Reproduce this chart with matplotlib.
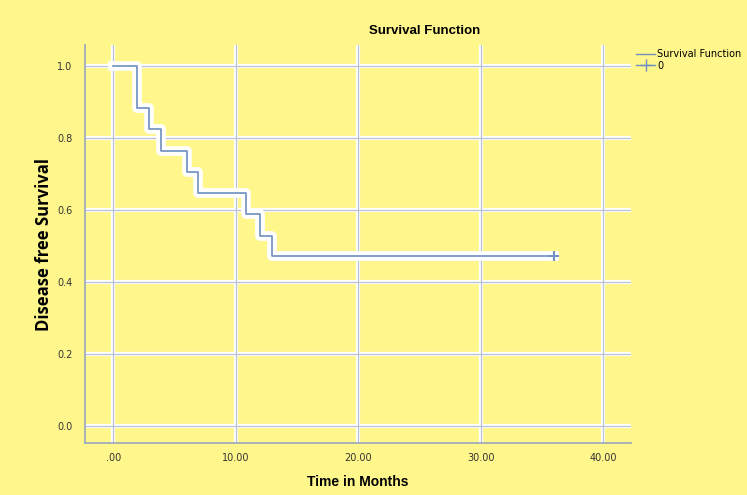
import matplotlib.pyplot as plt
from matplotlib.lines import Line2D

# Kaplan-Meier step data
event_times = [0.0, 1.9, 2.9, 3.9, 6.0, 6.9, 10.8, 12.0, 13.0]
survival = [1.0, 0.882, 0.824, 0.765, 0.706, 0.647, 0.588, 0.529, 0.471]
censor_times = [36.0]
censor_survival = [0.471]

x_ticks = [0, 10, 20, 30, 40]
x_tick_labels = [".00", "10.00", "20.00", "30.00", "40.00"]
y_ticks = [0.0, 0.2, 0.4, 0.6, 0.8, 1.0]
y_tick_labels = ["0.0", "0.2", "0.4", "0.6", "0.8", "1.0"]

bg = "#FFF68C"
grid_col = "#B9C2D4"
line_col = "#6E8FBF"

fig = plt.figure(figsize=(7.47, 4.95), dpi=100, facecolor=bg)
ax = fig.add_axes([0.114, 0.105, 0.731, 0.804], facecolor=bg)

# gridlines with a white halo underneath
for xt in x_ticks:
    ax.axvline(xt, color="white", linewidth=3, zorder=1)
    ax.axvline(xt, color=grid_col, linewidth=0.9, zorder=2)
for yt in y_ticks:
    ax.axhline(yt, color="white", linewidth=3, zorder=1)
    ax.axhline(yt, color=grid_col, linewidth=0.9, zorder=2)

# survival curve, extended flat to the last censored point
xs = event_times + censor_times
ys = survival + [survival[-1]]
ax.step(xs, ys, where="post", color="white", linewidth=7, zorder=3)
ax.step(xs, ys, where="post", color=line_col, linewidth=1.2, zorder=4)
ax.plot(censor_times, censor_survival, marker="+", color=line_col,
        markersize=7, markeredgewidth=1.4, linestyle="none", zorder=5)

ax.set_xlim(-2.3, 42.3)
ax.set_ylim(-0.047, 1.058)
ax.set_xticks(x_ticks)
ax.set_xticklabels(x_tick_labels)
ax.set_yticks(y_ticks)
ax.set_yticklabels(y_tick_labels)
ax.tick_params(length=0, labelsize=7, colors="#333333")
ax.tick_params(axis="x", pad=7)
ax.tick_params(axis="y", pad=9)

for side in ["top", "right"]:
    ax.spines[side].set_visible(False)
for side in ["left", "bottom"]:
    ax.spines[side].set_color("#9AA6BC")
    ax.spines[side].set_linewidth(1.2)

ax.set_xlabel("Time in Months", fontsize=10, fontweight="bold",
              family="Liberation Sans", labelpad=9)
ax.set_ylabel("Disease free Survival", fontsize=12, fontweight="bold",
              family="Open Sans", labelpad=3)
fig.text(0.569, 0.937, "Survival Function", ha="center", va="center",
         fontsize=9.5, fontweight="bold", family="Liberation Sans")

handles = [
    Line2D([0], [0], color=line_col, linewidth=1.0, drawstyle="steps-post"),
    Line2D([0], [0], color=line_col, linewidth=1.0, marker="+", markersize=8),
]
fig.legend(handles, ["Survival Function", "0"], loc="upper left",
           bbox_to_anchor=(0.846, 0.908), frameon=False, fontsize=7,
           handlelength=2.0, handletextpad=0.2, labelspacing=0.15,
           borderaxespad=0)

fig.savefig("out.png", dpi=100, facecolor=bg)
